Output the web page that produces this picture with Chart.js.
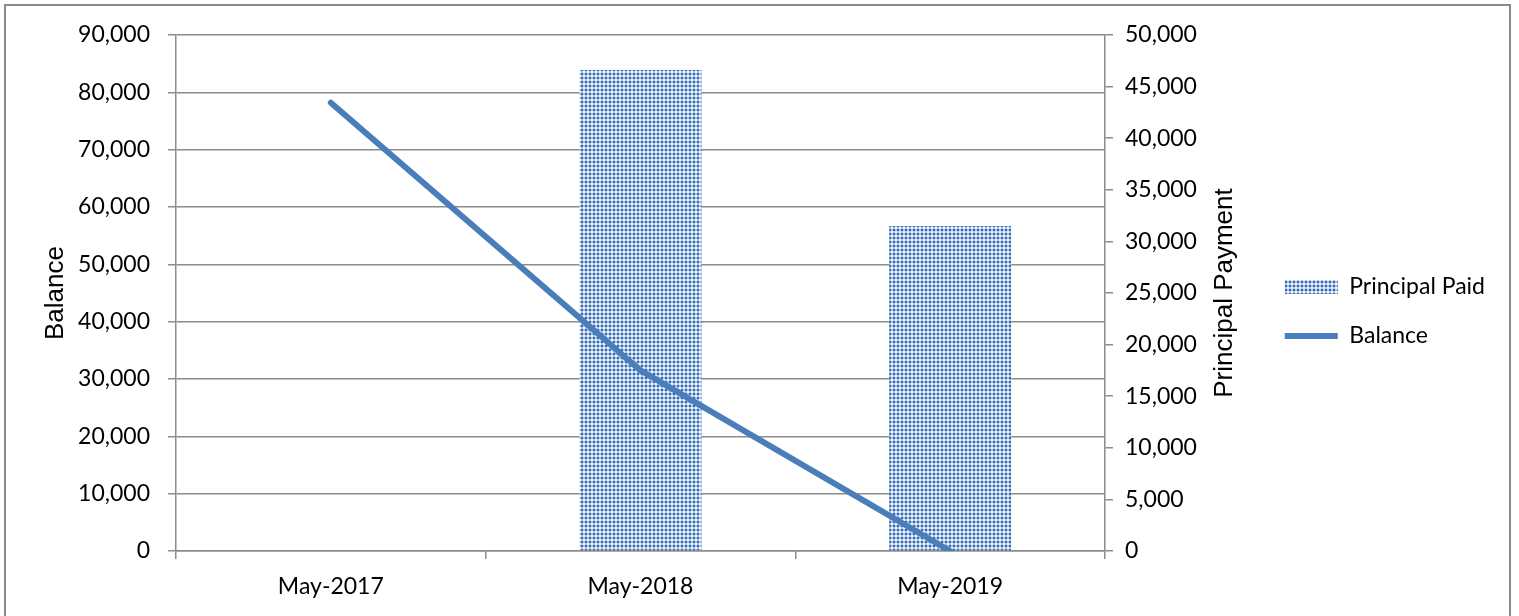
<!DOCTYPE html>
<html lang="en">
<head>
    <meta charset="UTF-8">
    <title>Principal Paid and Balance</title>
    <script src="https://cdn.jsdelivr.net/npm/chart.js"></script>
    <style>
        body { margin: 0; background: #fff; }
        #wrap { position: relative; width: 1519px; height: 616px; overflow: hidden; }
        #frame { position: absolute; left: 4px; top: 4px; width: 1507px; height: 700px;
                 border: 2px solid #8a8a8a; box-sizing: border-box; pointer-events: none; }
        canvas { position: absolute; left: 0; top: 0; }
    </style>
</head>
<body>
<div id="wrap">
    <div id="frame"></div>
    <canvas id="loanChart" width="1519" height="616"></canvas>
</div>

<script>
    // data
    const periods = ['May-2017', 'May-2018', 'May-2019'];
    const principalPaid = [null, 46600, 31500];
    const balance = [78200, 31500, 0];
    const balanceTicks = { min: 0, max: 90000, step: 10000 };
    const principalTicks = { min: 0, max: 50000, step: 5000 };
    const rightTitle = 'Principal Payment';

    const lineBlue = '#4a7ebb';
    const gridGrey = '#8c8c8c';
    const tickFont = { family: 'Lato', size: 23 };
    const padRight = 24;

    // dotted fill like the excel pattern
    function dotPattern() {
        const c = document.createElement('canvas');
        c.width = 4; c.height = 4;
        const g = c.getContext('2d');
        g.fillStyle = '#f2f6fc';
        g.fillRect(0, 0, 4, 4);
        g.fillStyle = '#a9c2e3';
        g.fillRect(0, 1, 4, 2);
        g.fillRect(1, 0, 2, 4);
        g.fillStyle = '#3a6db2';
        g.fillRect(1, 1, 2, 2);
        return g.createPattern(c, 'repeat');
    }

    const fmt = v => Number(v).toLocaleString('en-US');

    // secondary title reads bottom-to-top like the left one
    const rightTitlePlugin = {
        id: 'rightTitle',
        afterDraw(chart) {
            const { ctx, chartArea } = chart;
            ctx.save();
            ctx.translate(1225, (chartArea.top + chartArea.bottom) / 2);
            ctx.rotate(-Math.PI / 2);
            ctx.font = '26px "Liberation Sans"';
            ctx.fillStyle = '#000';
            ctx.textAlign = 'center';
            ctx.textBaseline = 'middle';
            ctx.fillText(rightTitle, 0, 0);
            ctx.restore();
        }
    };

    const ctx = document.getElementById('loanChart').getContext('2d');
    new Chart(ctx, {
        data: {
            labels: periods,
            datasets: [{
                type: 'bar',
                label: 'Principal Paid',
                data: principalPaid,
                yAxisID: 'y1',
                backgroundColor: dotPattern(),
                borderWidth: 0,
                barPercentage: 0.394,
                categoryPercentage: 1,
                pointStyle: 'rect',
                order: 1
            }, {
                type: 'line',
                label: 'Balance',
                data: balance,
                yAxisID: 'y',
                borderColor: lineBlue,
                backgroundColor: lineBlue,
                borderWidth: 6,
                borderCapStyle: 'round',
                borderJoinStyle: 'round',
                pointRadius: 0,
                pointHoverRadius: 0,
                pointStyle: 'line',
                pointBorderWidth: 6,
                pointBorderColor: lineBlue,
                tension: 0,
                order: 0
            }]
        },
        options: {
            responsive: false,
            devicePixelRatio: 1,
            animation: false,
            layout: { padding: { left: 0, top: 7, right: padRight, bottom: 0 } },
            plugins: {
                tooltip: { enabled: false },
                legend: {
                    position: 'right',
                    align: 'center',
                    labels: {
                        usePointStyle: true,
                        pointStyleWidth: 53,
                        boxHeight: 14,
                        padding: 26,
                        color: '#000',
                        font: tickFont,
                        sort: (a, b) => a.datasetIndex - b.datasetIndex
                    }
                }
            },
            scales: {
                x: {
                    offset: true,
                    grid: { display: true, drawOnChartArea: false, drawTicks: true, tickLength: 8,
                            offset: true, color: gridGrey, lineWidth: 1.5 },
                    border: { display: true, color: gridGrey, width: 1.5 },
                    ticks: { color: '#000', font: tickFont, padding: 14, maxRotation: 0, autoSkip: false },
                    afterFit: s => { s.height = 65; }
                },
                y: {
                    position: 'left',
                    min: balanceTicks.min,
                    max: balanceTicks.max,
                    grid: { color: gridGrey, lineWidth: 1.5, tickLength: 8 },
                    border: { display: true, color: gridGrey, width: 1.5 },
                    ticks: { stepSize: balanceTicks.step, color: '#000', font: tickFont, padding: 18, callback: fmt },
                    title: { display: true, text: 'Balance', color: '#000',
                             font: { family: 'Liberation Sans', size: 26 }, padding: { top: 40, bottom: 0 } },
                    afterFit: s => { s.width = 176; s.paddingTop = 35; }
                },
                y1: {
                    position: 'right',
                    min: principalTicks.min,
                    max: principalTicks.max,
                    grid: { drawOnChartArea: false, color: gridGrey, lineWidth: 1.5, tickLength: 8 },
                    border: { display: true, color: gridGrey, width: 1.5 },
                    ticks: { stepSize: principalTicks.step, color: '#000', font: tickFont, padding: 12, callback: fmt },
                    afterFit: s => {
                        const lw = s.chart.legend ? s.chart.legend.width : 0;
                        s.width = 1519 - 1105 - padRight - lw;
                    }
                }
            }
        },
        plugins: [rightTitlePlugin]
    });
</script>
</body>
</html>
